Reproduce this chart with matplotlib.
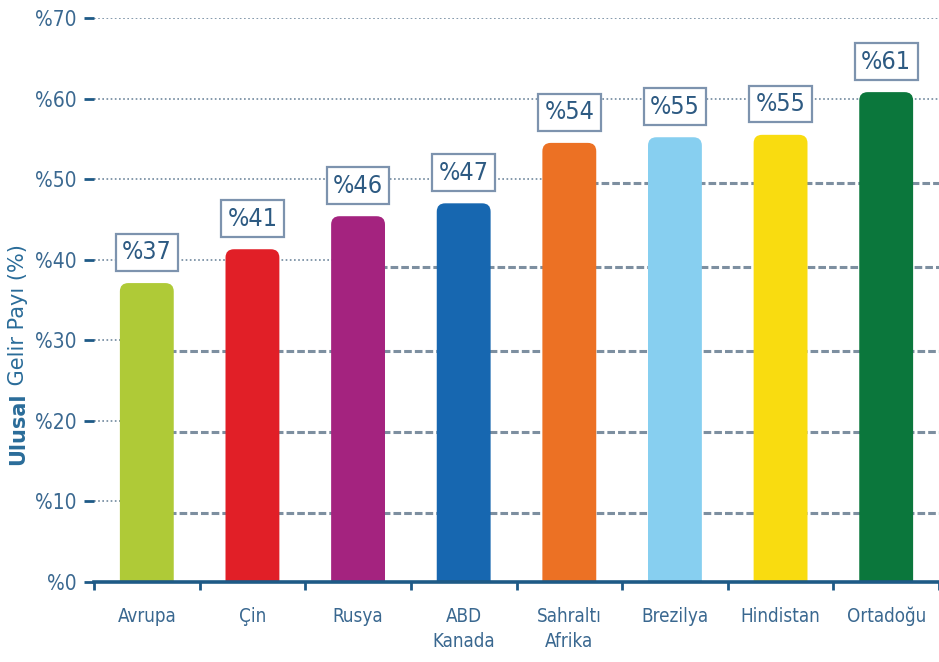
import matplotlib.pyplot as plt
from matplotlib.patches import FancyBboxPatch

# veriler
bolgeler = ['Avrupa', 'Çin', 'Rusya', 'ABD\nKanada', 'Sahraltı\nAfrika', 'Brezilya', 'Hindistan', 'Ortadoğu']
degerler = [37, 41, 46, 47, 54, 55, 55, 61]
# resimdeki çubuk yükseklikleri (etiketlerden biraz farklı)
yukseklik = [37.1, 41.3, 45.4, 47.0, 54.5, 55.2, 55.5, 60.8]
renkler = ['#afca37', '#e11f27', '#a4237f', '#1767b0', '#ec7124', '#87cff0', '#f9dc10', '#0b773c']
y_ticks = [0, 10, 20, 30, 40, 50, 60, 70]
y_etiket = ['%' + str(v) for v in y_ticks]

# ızgara: noktalı çizgiler tick seviyesinde, kesikli çizgiler biraz aşağıda
nokta_seviye = [10, 20, 30, 40, 50, 60, 70]
nokta_bitis = [0, 0, 0, 2, 4, 7.5, 7.5]
kesik_seviye = [8.6, 18.6, 28.7, 39.1, 49.5]
kesik_baslangic = [0, 0, 0, 2, 4]

koyu = '#1e5a86'
yazi = '#3a6890'

fig = plt.figure(figsize=(9.39, 6.62), dpi=100)
ax = fig.add_axes([94 / 939, 80 / 662, 1 - 94 / 939, 564 / 662])
ax.set_xlim(-0.5, 7.5)
ax.set_ylim(0, 70)

ax.hlines(nokta_seviye, -0.5, nokta_bitis, colors='#6f879d', linestyles=(0, (1, 1.5)), lw=1.2, zorder=0)
ax.hlines(kesik_seviye, kesik_baslangic, 7.5, colors='#7d8fa0', linestyles=(0, (2.5, 1)), lw=2.2, zorder=0)

w = 0.51
for i, (h, c) in enumerate(zip(yukseklik, renkler)):
    p = FancyBboxPatch((i - w / 2, -3), w, h + 3,
                       boxstyle='round,pad=0,rounding_size=0.08',
                       mutation_aspect=13, fc=c, ec='none', zorder=2)
    ax.add_patch(p)
    ax.text(i, h + 3.8, '%' + str(degerler[i]), ha='center', va='center',
            fontsize=18, fontstretch='condensed', color='#2d5a82', zorder=3,
            bbox=dict(boxstyle='square,pad=0.25', fc='white', ec='#7d93ae', lw=1.6))

for s in ['top', 'right', 'left']:
    ax.spines[s].set_visible(False)
ax.spines['bottom'].set_color(koyu)
ax.spines['bottom'].set_linewidth(2.6)
ax.spines['bottom'].set_zorder(4)

ax.set_yticks(y_ticks)
ax.set_yticklabels(y_etiket, fontsize=15, fontstretch='condensed', color=yazi)
ax.tick_params(axis='y', length=7.5, width=2, color=koyu, pad=5)

ax.set_xticks(range(len(bolgeler)))
ax.set_xticklabels(bolgeler, fontsize=13.5, fontstretch='condensed', color=yazi, linespacing=1.4, va='top')
ax.set_xticks([i - 0.5 for i in range(len(bolgeler) + 1)], minor=True)
ax.tick_params(axis='x', which='major', length=0, pad=18)
ax.tick_params(axis='x', which='minor', length=6, width=2, color=koyu)

# eksen başlığı: "Ulusal" kalın, geri kalanı normal
t1 = fig.text(18 / 939, 1 - 465 / 662, 'Ulusal', rotation=90, rotation_mode='anchor',
              ha='left', va='center', fontsize=15, fontweight='bold', color='#2a6c99')
fig.canvas.draw()
ax.annotate(' Gelir Payı (%)', xy=(0.5, 1), xycoords=t1, rotation=90, rotation_mode='anchor',
            ha='left', va='center', fontsize=15, color='#2a6c99', annotation_clip=False)

plt.savefig('out.png', dpi=100)
